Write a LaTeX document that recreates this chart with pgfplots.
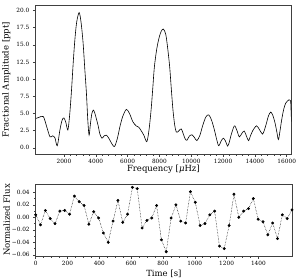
\documentclass[border=0pt]{standalone}
\usepackage{pgfplots}
\pgfplotsset{compat=1.18}
\usepackage{fontspec}
\setmainfont{DejaVu Serif}
\pgfplotsset{
 common/.style={
  scale only axis,
  anchor=north west,
  axis line style={black!75, line width=0.6pt},
  tick style={black!75, line width=0.5pt},
  tick align=outside,
  tick pos=left,
  major tick length=2.5pt,
  minor tick length=1.5pt,
  scaled ticks=false,
  tick label style={font=\fontsize{5.8}{6}\selectfont},
  label style={font=\fontsize{8.5}{10}\selectfont},
  /pgf/number format/assume math mode=true,
  /pgf/number format/1000 sep={},
 }
}
\begin{document}
\begin{tikzpicture}
\useasboundingbox (0,0) rectangle (298pt,-279pt);
\begin{axis}[common, at={(35.3pt,-5pt)}, width=256.2pt, height=149pt,
  xmin=200, xmax=16300, ymin=-0.9, ymax=20.8,
  xtick={2000,4000,6000,8000,10000,12000,14000,16000}, minor x tick num=4,
  ytick={0,2.5,5,7.5,10,12.5,15,17.5,20},
  yticklabel style={/pgf/number format/.cd, fixed, fixed zerofill, precision=1},
  xticklabel style={yshift=1.2pt, /pgf/number format/.cd, fixed, precision=0, 1000 sep={}},
  xlabel={Frequency [\textit{μ}Hz]}, ylabel={Fractional Amplitude [ppt]},
  xlabel style={at={(axis description cs:0.5,-0.1)}, anchor=center},
  ylabel style={at={(axis description cs:-0.113,0.5)}, anchor=center}]
\addplot[black, line width=0.6pt, smooth, tension=0.5] table {
248 4.28
450 4.45
706 4.55
914 3.1
1122 1.6
1289 1.75
1435 1.45
1581 0.3
1747 2.6
1880 4.0
1997 4.35
2120 3.7
2247 2.6
2360 4.8
2476 8.4
2580 12.3
2685 15.7
2800 18.3
2956 19.7
3080 18.2
3206 15.2
3310 11.5
3414 7.9
3500 4.0
3580 1.85
3660 3.4
3747 4.9
3840 5.5
3935 5.1
4040 4.2
4143 3.3
4260 2.0
4393 1.4
4530 1.75
4664 1.85
4790 1.5
4914 1.0
5050 0.45
5184 0.2
5360 1.4
5539 3.3
5700 4.6
5920 5.6
6120 5.0
6330 3.8
6538 3.2
6700 3.0
6850 2.5
7017 1.85
7205 0.9
7340 2.5
7476 5.5
7580 8.6
7684 11.8
7840 14.5
7997 16.2
8120 17.0
8250 17.3
8400 16.5
8520 14.5
8644 11.8
8750 8.5
8852 5.5
8960 3.3
9060 2.3
9150 2.3
9230 2.5
9373 2.75
9519 1.9
9620 1.3
9727 1.1
9880 1.7
10040 1.9
10200 1.5
10352 1.05
10540 1.8
10727 3.3
10920 4.5
11102 4.8
11280 4.0
11456 2.6
11600 1.2
11727 0.3
11880 1.0
12018 1.4
12150 1.0
12289 0.25
12400 0.9
12498 1.8
12706 3.2
12860 2.6
13019 1.6
13180 2.1
13331 2.45
13470 1.7
13602 1.05
13730 1.8
13852 2.45
14102 3.2
14300 2.6
14477 2.0
14600 2.6
14727 3.6
14860 4.7
14998 5.2
15130 4.7
15268 3.6
15380 2.3
15477 1.2
15580 2.5
15685 4.1
15810 5.6
15935 6.5
16144 7.0
16250 6.8
};
\addplot[black, line width=0.6pt] table {
16250 6.8
16300 3.8
};
\end{axis}
\begin{axis}[common, at={(35.7pt,-184pt)}, width=256.3pt, height=72pt,
  xmin=0, xmax=1611.2, ymin=-0.0618, ymax=0.0533,
  xtick={0,200,400,600,800,1000,1200,1400}, minor x tick num=3,
  xticklabel style={yshift=1pt, /pgf/number format/.cd, fixed, precision=0, 1000 sep={}},
  ytick={-0.06,-0.04,-0.02,0,0.02,0.04},
  yticklabels={−0.06,−0.04,−0.02,0.00,0.02,0.04},
  minor y tick num=1,
  xlabel={Time [s]}, ylabel={Normalized Flux},
  xlabel style={at={(axis description cs:0.5,-0.245)}, anchor=center},
  ylabel style={at={(axis description cs:-0.113,0.5)}, anchor=center}]
\addplot[black, densely dotted, line width=0.5pt, mark=*, mark size=1.2pt, mark options={solid, fill=black}] table {
0 0.004
30.4 -0.012
60.8 0.011
91.2 -0.002
121.6 -0.010
152 0.010
182.4 0.011
212.8 0.005
243.2 0.034
273.6 0.025
304 0.019
334.4 -0.011
364.8 0.009
395.2 -0.001
425.6 -0.025
456 -0.040
486.4 -0.006
516.8 0.027
547.2 -0.008
577.6 0.005
608 0.048
638.4 0.046
668.8 -0.017
699.2 -0.005
729.6 -0.001
760 0.019
790.4 -0.036
820.8 -0.055
851.2 -0.001
881.6 0.020
912 -0.006
942.4 -0.009
972.8 0.041
1003.2 0.024
1033.6 -0.013
1064 -0.010
1094.4 0.004
1124.8 0.010
1155.2 -0.046
1185.6 -0.050
1216 -0.013
1246.4 0.037
1276.8 0.000
1307.2 0.010
1337.6 0.014
1368 0.030
1398.4 -0.003
1428.8 -0.007
1459.2 -0.028
1489.6 -0.009
1520 -0.034
1550.4 0.004
1580.8 -0.002
1611.2 0.012
};
\end{axis}
\end{tikzpicture}
\end{document}
